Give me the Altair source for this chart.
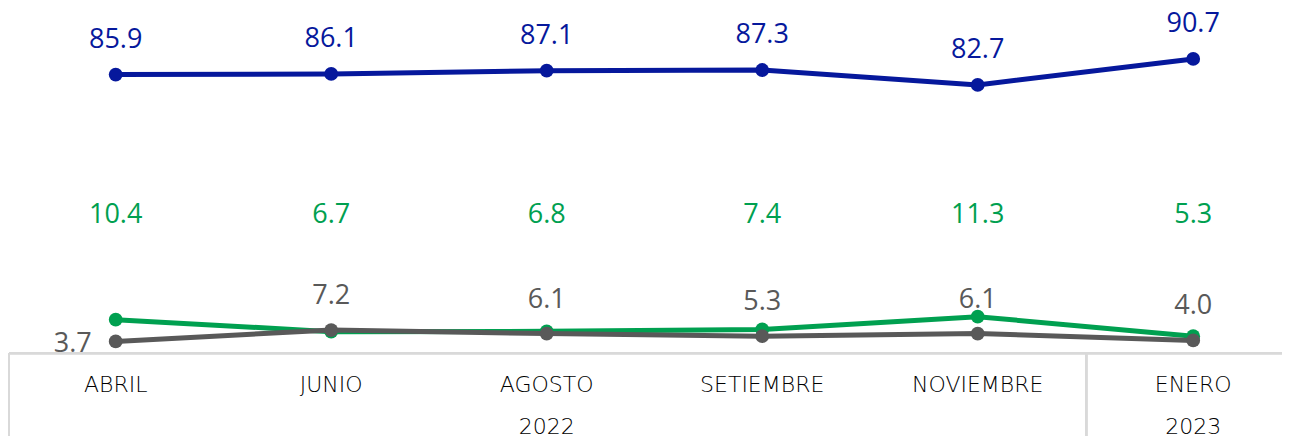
import altair as alt
import pandas as pd

months = ["ABRIL", "JUNIO", "AGOSTO", "SETIEMBRE", "NOVIEMBRE", "ENERO"]
year_labels = ["2022", "2023"]
year_anchor = ["AGOSTO", "ENERO"]
blue_vals = [85.9, 86.1, 87.1, 87.3, 82.7, 90.7]
green_vals = [10.4, 6.7, 6.8, 7.4, 11.3, 5.3]
gray_vals = [3.7, 7.2, 6.1, 5.3, 6.1, 4.0]

BLUE = "#06189C"
GREEN = "#00A050"
GRAY = "#595959"
FRAME = "#D9D9D9"
LABEL_FONT = "Open Sans"
AXIS_FONT = "DejaVu Sans"

W = 1274
H = 428

rows = []
for name, vals in [("green", green_vals), ("gray", gray_vals), ("blue", blue_vals)]:
    for i, (m, v) in enumerate(zip(months, vals)):
        rows.append({"month": m, "series": name, "value": v, "idx": i, "label": f"{v:.1f}"})
df = pd.DataFrame(rows)
years_df = pd.DataFrame({"month": year_anchor, "year": year_labels})
months_df = pd.DataFrame({"month": months})

xs = alt.Scale(type="point", domain=months, range=[107.7, 1185.2], padding=0)
ys = alt.Scale(domain=[0, 106.4], range=[345.4, 0], zero=False, nice=False)
X = alt.X("month:N", scale=xs, axis=None)
Y = alt.Y("value:Q", scale=ys, axis=None)

base = alt.Chart(df)

def line_layer(name, color):
    d = base.transform_filter(alt.datum.series == name)
    ln = d.mark_line(color=color, strokeWidth=5).encode(x=X, y=Y, order="idx:Q")
    pt = d.mark_point(color=color, filled=True, opacity=1, size=190).encode(x=X, y=Y)
    return ln + pt

lines = line_layer("green", GREEN) + line_layer("gray", GRAY) + line_layer("blue", BLUE)

blue_lbl = base.transform_filter(alt.datum.series == "blue").mark_text(
    font=LABEL_FONT, fontSize=27, color=BLUE, baseline="alphabetic", dy=-27
).encode(x=X, y=Y, text="label:N")

gray_lbl = base.transform_filter(
    (alt.datum.series == "gray") & (alt.datum.idx > 0)
).mark_text(
    font=LABEL_FONT, fontSize=27, color=GRAY, baseline="alphabetic", dy=-26
).encode(x=X, y=Y, text="label:N")

gray_first = base.transform_filter(
    (alt.datum.series == "gray") & (alt.datum.idx == 0)
).mark_text(
    font=LABEL_FONT, fontSize=27, color=GRAY, baseline="middle", align="right", dx=-24, dy=3
).encode(x=X, y=Y, text="label:N")

green_lbl = base.transform_filter(alt.datum.series == "green").mark_text(
    font=LABEL_FONT, fontSize=27, color=GREEN, baseline="middle"
).encode(x=X, y=alt.value(207), text="label:N")

cover = alt.Chart(months_df).mark_rect(color="white").encode(
    x=alt.value(1), x2=alt.value(W), y=alt.value(345.5), y2=alt.value(H)
)

hline = alt.Chart(months_df).mark_rule(color=FRAME, strokeWidth=2).encode(
    x=alt.value(1), x2=alt.value(W), y=alt.value(345.3)
)
vline_left = alt.Chart(months_df).mark_rule(color=FRAME, strokeWidth=2).encode(
    x=alt.value(1), y=alt.value(345.3), y2=alt.value(H)
)
vline_sep = alt.Chart(months_df).mark_rule(color=FRAME, strokeWidth=2).encode(
    x=alt.value(1078.3), y=alt.value(345.3), y2=alt.value(H)
)

month_lbl = alt.Chart(months_df).mark_text(
    font=AXIS_FONT, fontWeight=200, fontSize=22, color="#000000", baseline="alphabetic"
).encode(x=X, y=alt.value(383.7), text="month:N")

year_lbl = alt.Chart(years_df).mark_text(
    font=AXIS_FONT, fontWeight=200, fontSize=22, color="#000000", baseline="alphabetic"
).encode(x=X, y=alt.value(426.3), text="year:N")

chart = alt.layer(
    lines, blue_lbl, gray_lbl, gray_first, green_lbl,
    cover, hline, vline_left, vline_sep, month_lbl, year_lbl
).properties(
    width=W, height=H, padding=0, autosize="none"
).configure_view(stroke=None)

chart.save("out.html", embed_options={"renderer": "svg", "actions": False})
